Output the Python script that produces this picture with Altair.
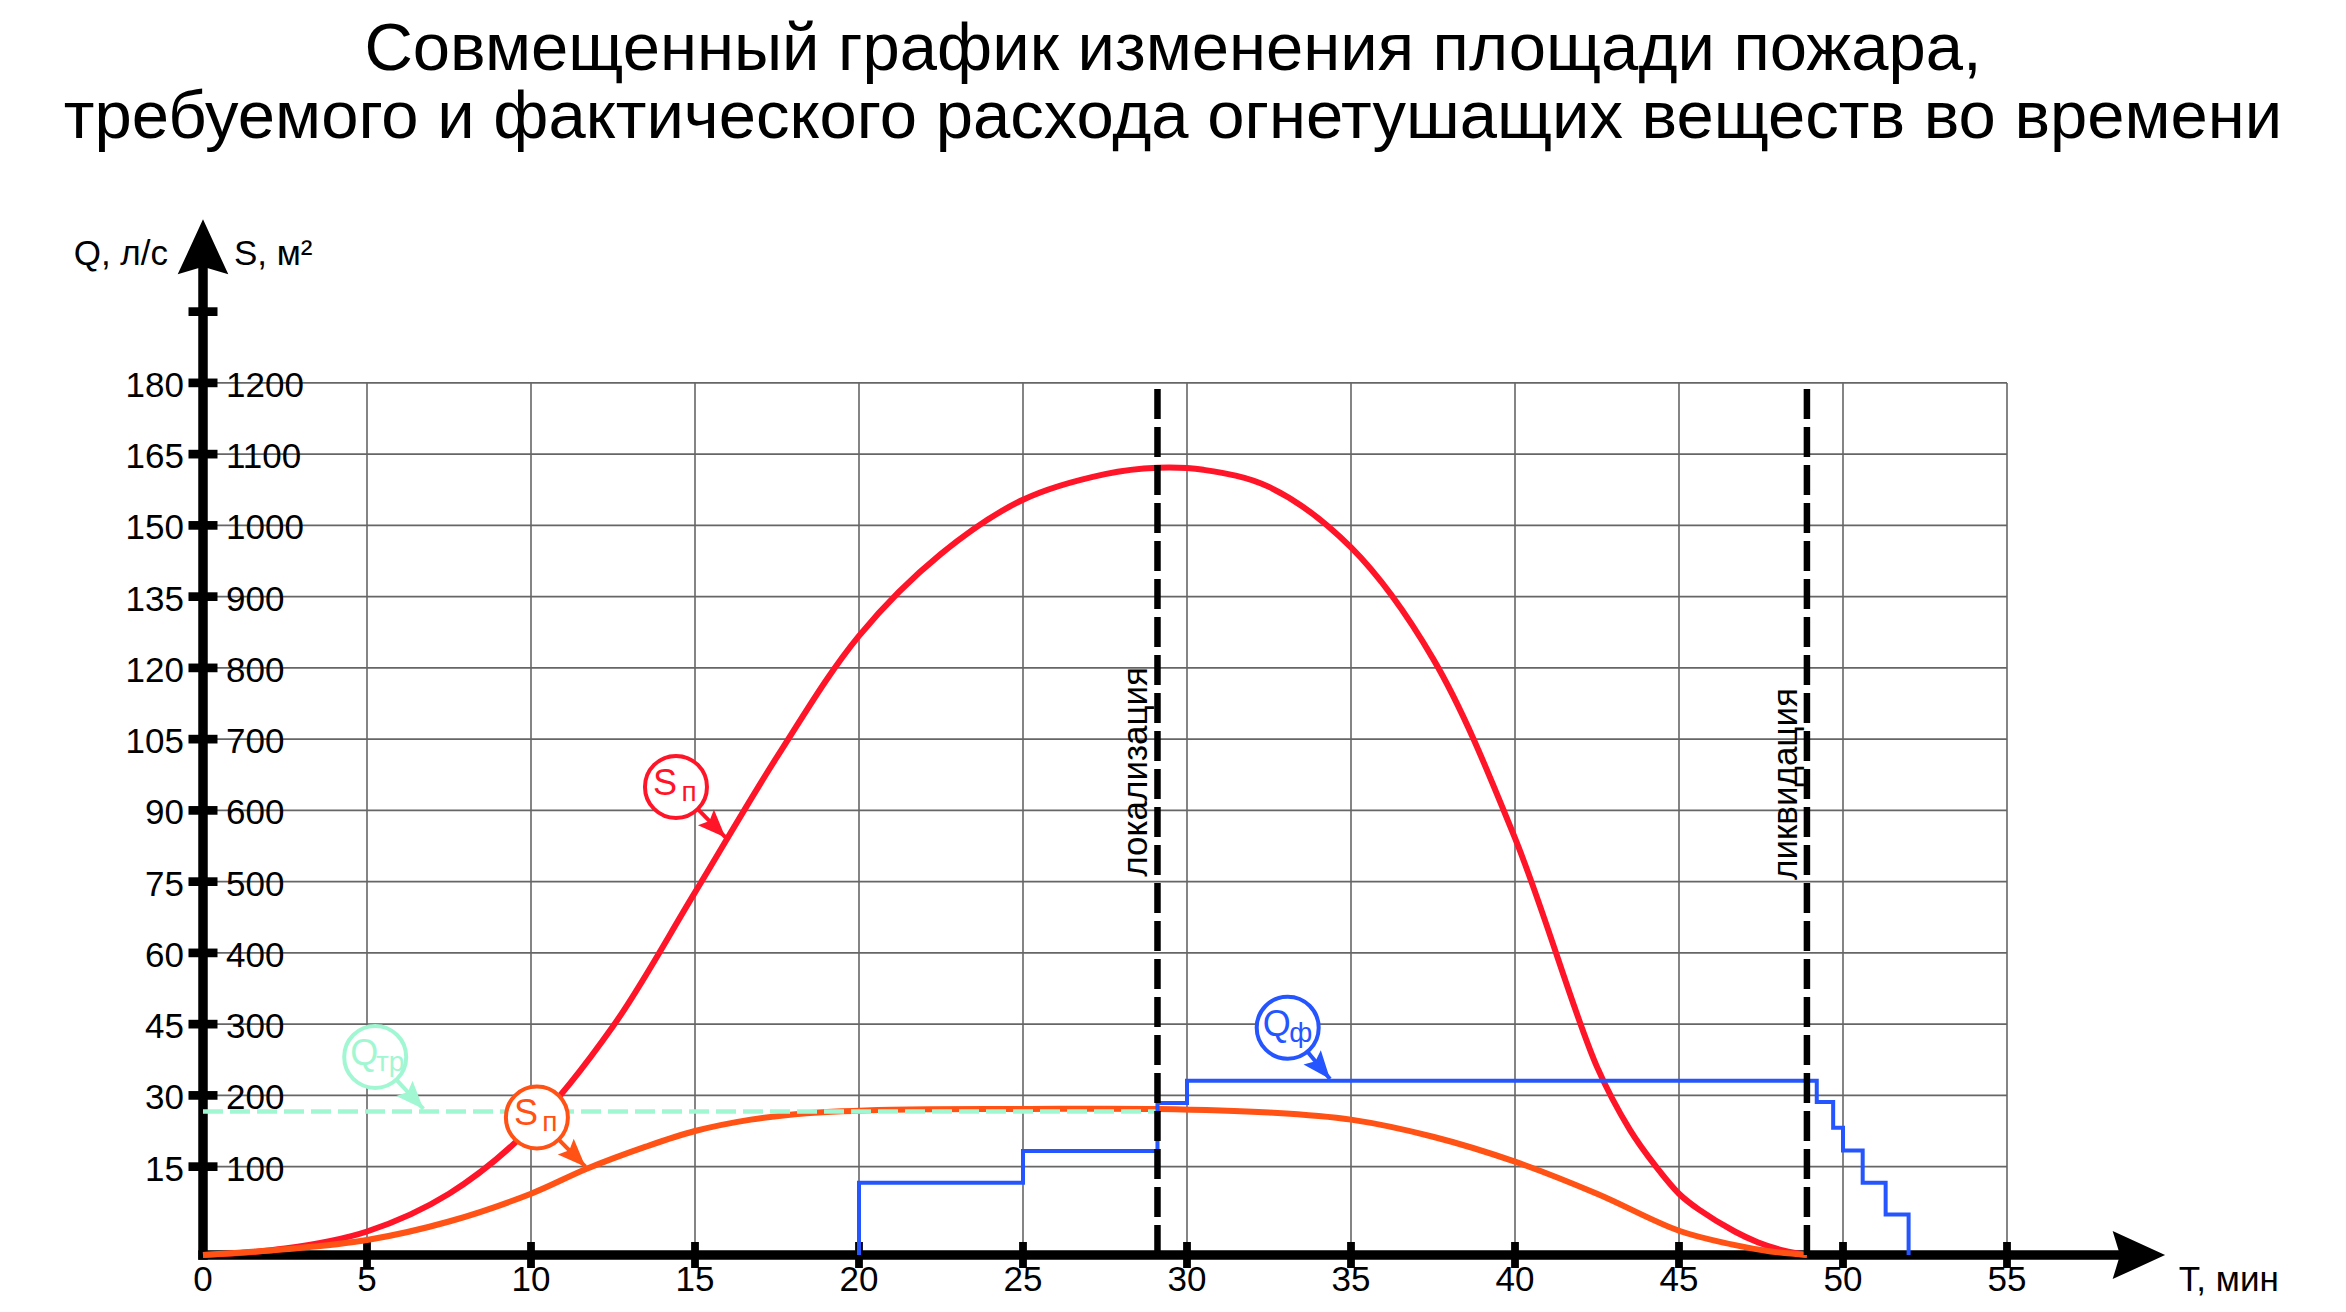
import math
import altair as alt
import pandas as pd

FONT = "Liberation Sans, Arial, sans-serif"

TITLE_LINES = [
    "Совмещенный график изменения площади пожара,",
    "требуемого и фактического расхода огнетушащих веществ во времени",
]

# Площадь пожара S, м² (red curve)
RED_T = [0, 2.5, 5, 7.5, 10, 12.5, 15, 17.5, 20, 22.5, 25, 27.5, 29.1, 30.5, 32.5,
         35, 37.5, 40, 42.5, 43.5, 44.3, 45, 45.6, 46.7, 47.4, 48.2, 48.9]
RED_S = [-24, -15, 9, 62, 155, 297, 485, 675, 845, 960, 1036, 1072, 1081, 1078, 1054,
         969, 813, 561, 240, 152, 100, 62, 40, 9, -6, -18, -24]

# Площадь тушения S, м² (orange curve)
ORANGE_T = [0, 2.5, 5, 7.5, 10, 11.7, 13.5, 15, 16.7, 18.4, 21, 25, 29.1, 32.5, 35,
            37.5, 40, 42.5, 45, 46.6, 47.8, 48.9]
ORANGE_S = [-24, -16, -3, 23, 62, 97, 128, 150, 166, 175, 180, 181, 181, 176, 166,
            142, 107, 62, 10, -9, -19, -24]

# Требуемый расход Q_тр, л/с
QTR_T = [0, 29.1]
QTR_Q = [26.6, 26.6]

# Фактический расход Q_ф, л/с (steps)
QF_T = [20, 20, 25, 29.1, 30, 49.2, 49.7, 50.0, 50.6, 51.3, 52.0]
QF_Q = [-3.6, 11.6, 18.3, 28.4, 33.1, 28.6, 23.2, 18.4, 11.6, 4.9, -3.6]

EVENT_T = [29.1, 48.9]
EVENT_LABEL = ["локализация", "ликвидация"]
EVENT_LABEL_S = [654, 637]

X_TICKS = [0, 5, 10, 15, 20, 25, 30, 35, 40, 45, 50, 55]
S_TICKS = [100, 200, 300, 400, 500, 600, 700, 800, 900, 1000, 1100, 1200]
Q_TICKS = [15, 30, 45, 60, 75, 90, 105, 120, 135, 150, 165, 180]
S_EXTRA_TICK = [1300]

# Callouts
ANN_MAIN = ["Q", "S", "S", "Q"]
ANN_SUB = ["тр", "п", "п", "ф"]
ANN_SUB_DX = [15, 13, 13, 13]
ANN_CT = [5.25, 14.42, 10.18, 33.07]
ANN_CS = [254, 633, 169, 295]
ANN_TT = [6.72, 15.93, 11.66, 34.36]
ANN_TS = [181, 562, 100, 223]

RED = "#ff1428"
ORANGE = "#ff5214"
GREEN = "#a2f7d3"
BLUE = "#2455ff"
GRID = "#666666"
ANN_COLOR = [GREEN, RED, ORANGE, BLUE]

Q_PER_S = 0.15  # 15 л/с per 100 м²

X_DOM = [0, 60]
Y_DOM = [-24, 1430]
W, H = 1968, 1036
PAD_L = 195

xs = alt.Scale(domain=X_DOM, nice=False, zero=False)
ys = alt.Scale(domain=Y_DOM, nice=False, zero=False)


def X(f):
    return alt.X(f, type="quantitative", scale=xs, axis=None)


def Y(f):
    return alt.Y(f, type="quantitative", scale=ys, axis=None)


base_y = Y_DOM[0]
top_y = Y_DOM[1]
layers = []

# title (two lines, centred on the page)
title_t = (X_DOM[0] + X_DOM[1]) / 2
title_dx = (2346 / 2 - 8 - PAD_L) - W / 2
for line, dy in zip(TITLE_LINES, [-149, -81]):
    layers.append(alt.Chart(pd.DataFrame({"t": [title_t], "s": [top_y], "lab": [line]})).mark_text(
        align="center", baseline="alphabetic", dx=title_dx, dy=dy, fontSize=67, font=FONT,
        color="black").encode(x=X("t"), y=Y("s"), text="lab:N"))

# grid
hgrid = pd.DataFrame({"s": S_TICKS, "t0": X_TICKS[0], "t1": X_TICKS[-1]})
layers.append(alt.Chart(hgrid).mark_rule(color=GRID, strokeWidth=1.6).encode(
    x=X("t0"), x2="t1", y=Y("s")))
vgrid = pd.DataFrame({"t": X_TICKS[1:], "s0": base_y, "s1": S_TICKS[-1]})
layers.append(alt.Chart(vgrid).mark_rule(color=GRID, strokeWidth=1.6).encode(
    x=X("t"), y=Y("s0"), y2="s1"))

# axes
yaxis = pd.DataFrame({"t": [0], "s0": [base_y], "s1": [1380]})
layers.append(alt.Chart(yaxis).mark_rule(color="black", strokeWidth=9.5, strokeCap="square").encode(
    x=X("t"), y=Y("s0"), y2="s1"))
xaxis = pd.DataFrame({"t0": [0], "t1": [58.5], "s": [base_y]})
layers.append(alt.Chart(xaxis).mark_rule(color="black", strokeWidth=9.5, strokeCap="square").encode(
    x=X("t0"), x2="t1", y=Y("s")))

AXIS_HEAD = "M0,0L0.46,1L0,0.86L-0.46,1Z"
layers.append(alt.Chart(pd.DataFrame({"t": [0], "s": [1429.5]})).mark_point(
    shape=AXIS_HEAD, size=12100, filled=True, color="black", opacity=1).encode(
    x=X("t"), y=Y("s")))
layers.append(alt.Chart(pd.DataFrame({"t": [59.82], "s": [base_y]})).mark_point(
    shape=AXIS_HEAD, size=11000, filled=True, color="black", opacity=1, angle=90).encode(
    x=X("t"), y=Y("s")))

# tick marks
ytk = pd.DataFrame({"t": 0, "s": S_TICKS + S_EXTRA_TICK})
layers.append(alt.Chart(ytk).mark_point(
    shape="M-1,-0.3L1,-0.3L1,0.3L-1,0.3Z", size=841, filled=True, color="black", opacity=1).encode(
    x=X("t"), y=Y("s")))
xtk = pd.DataFrame({"t": X_TICKS[1:], "s": base_y})
layers.append(alt.Chart(xtk).mark_point(
    shape="M-0.3,-1L0.3,-1L0.3,1L-0.3,1Z", size=676, filled=True, color="black", opacity=1).encode(
    x=X("t"), y=Y("s")))

# tick labels
qlab = pd.DataFrame({"t": 0, "s": S_TICKS, "lab": [str(v) for v in Q_TICKS]})
layers.append(alt.Chart(qlab).mark_text(
    align="right", baseline="middle", dx=-19, dy=3, fontSize=35, font=FONT, color="black").encode(
    x=X("t"), y=Y("s"), text="lab:N"))
slab = pd.DataFrame({"t": 0, "s": S_TICKS, "lab": [str(v) for v in S_TICKS]})
layers.append(alt.Chart(slab).mark_text(
    align="left", baseline="middle", dx=23, dy=3, fontSize=35, font=FONT, color="black").encode(
    x=X("t"), y=Y("s"), text="lab:N"))
xlab = pd.DataFrame({"t": X_TICKS, "s": base_y, "lab": [str(v) for v in X_TICKS]})
layers.append(alt.Chart(xlab).mark_text(
    align="center", baseline="alphabetic", dy=36, fontSize=35, font=FONT, color="black").encode(
    x=X("t"), y=Y("s"), text="lab:N"))

# axis titles
layers.append(alt.Chart(pd.DataFrame({"t": [0], "s": [1365], "lab": ["Q, л/с"]})).mark_text(
    align="right", baseline="alphabetic", dx=-35, fontSize=35, font=FONT, color="black").encode(
    x=X("t"), y=Y("s"), text="lab:N"))
layers.append(alt.Chart(pd.DataFrame({"t": [0], "s": [1365], "lab": ["S, м²"]})).mark_text(
    align="left", baseline="alphabetic", dx=31, fontSize=35, font=FONT, color="black").encode(
    x=X("t"), y=Y("s"), text="lab:N"))
layers.append(alt.Chart(pd.DataFrame({"t": [60.24], "s": [base_y], "lab": ["T, мин"]})).mark_text(
    align="left", baseline="alphabetic", dy=36, fontSize=35, font=FONT, color="black").encode(
    x=X("t"), y=Y("s"), text="lab:N"))

# curves
red = pd.DataFrame({"t": RED_T, "s": RED_S, "i": range(len(RED_T))})
layers.append(alt.Chart(red).mark_line(color=RED, strokeWidth=6, interpolate="catmull-rom").encode(
    x=X("t"), y=Y("s"), order="i:Q"))
orange = pd.DataFrame({"t": ORANGE_T, "s": ORANGE_S, "i": range(len(ORANGE_T))})
layers.append(alt.Chart(orange).mark_line(color=ORANGE, strokeWidth=6, interpolate="catmull-rom").encode(
    x=X("t"), y=Y("s"), order="i:Q"))
qtr = pd.DataFrame({"t": QTR_T, "s": [q / Q_PER_S for q in QTR_Q], "i": range(len(QTR_T))})
layers.append(alt.Chart(qtr).mark_line(color=GREEN, strokeWidth=4.5, strokeDash=[20, 7]).encode(
    x=X("t"), y=Y("s"), order="i:Q"))
qf = pd.DataFrame({"t": QF_T, "s": [q / Q_PER_S for q in QF_Q], "i": range(len(QF_T))})
layers.append(alt.Chart(qf).mark_line(color=BLUE, strokeWidth=4, interpolate="step-after").encode(
    x=X("t"), y=Y("s"), order="i:Q"))

# events
ev = pd.DataFrame({"t": EVENT_T, "s0": base_y, "s1": S_TICKS[-1],
                   "lab": EVENT_LABEL, "sl": EVENT_LABEL_S})
layers.append(alt.Chart(ev).mark_rule(color="black", strokeWidth=6.5, strokeDash=[30, 8]).encode(
    x=X("t"), y=Y("s0"), y2="s1"))
layers.append(alt.Chart(ev).mark_text(
    angle=270, align="center", baseline="alphabetic", dy=-10, fontSize=35, font=FONT,
    color="black").encode(x=X("t"), y=Y("sl"), text="lab:N"))

# callouts
px_t = W / (X_DOM[1] - X_DOM[0])
px_s = H / (Y_DOM[1] - Y_DOM[0])
angles = []
for ct, cs, tt, ts in zip(ANN_CT, ANN_CS, ANN_TT, ANN_TS):
    dxp = (tt - ct) * px_t
    dyp = -(ts - cs) * px_s
    angles.append(math.degrees(math.atan2(dxp, -dyp)) % 360)
ann = pd.DataFrame({"ct": ANN_CT, "cs": ANN_CS, "tt": ANN_TT, "ts": ANN_TS,
                    "col": ANN_COLOR, "main": ANN_MAIN, "sub": ANN_SUB, "ang": angles})
col = alt.Color("col:N", scale=None)
layers.append(alt.Chart(ann).mark_rule(strokeWidth=4).encode(
    x=X("ct"), x2="tt", y=Y("cs"), y2="ts", color=col))
layers.append(alt.Chart(ann).mark_point(
    shape="M0,0L0.4,1L0,0.82L-0.4,1Z", size=3136, filled=True, opacity=1).encode(
    x=X("tt"), y=Y("ts"), color=col, angle=alt.Angle("ang:Q", scale=None)))
layers.append(alt.Chart(ann).mark_point(
    shape="circle", size=3844, filled=True, fill="white", strokeWidth=4, opacity=1).encode(
    x=X("ct"), y=Y("cs"), stroke=alt.Stroke("col:N", scale=None)))
layers.append(alt.Chart(ann).mark_text(
    align="center", baseline="alphabetic", dx=-11, dy=8, fontSize=36, font=FONT).encode(
    x=X("ct"), y=Y("cs"), text="main:N", color=col))
for i, sub in enumerate(ANN_SUB):
    layers.append(alt.Chart(ann.iloc[[i]]).mark_text(
        align="center", baseline="alphabetic", dx=ANN_SUB_DX[i], dy=14, fontSize=28, font=FONT).encode(
        x=X("ct"), y=Y("cs"), text="sub:N", color=col))

chart = alt.layer(*layers).properties(
    width=W,
    height=H,
    padding={"left": PAD_L, "top": 211, "right": 157, "bottom": 44},
    autosize=alt.AutoSizeParams(type="none"),
    background="white",
).configure_view(stroke=None)

chart.save("out.html", embed_options={"renderer": "svg", "actions": False})
